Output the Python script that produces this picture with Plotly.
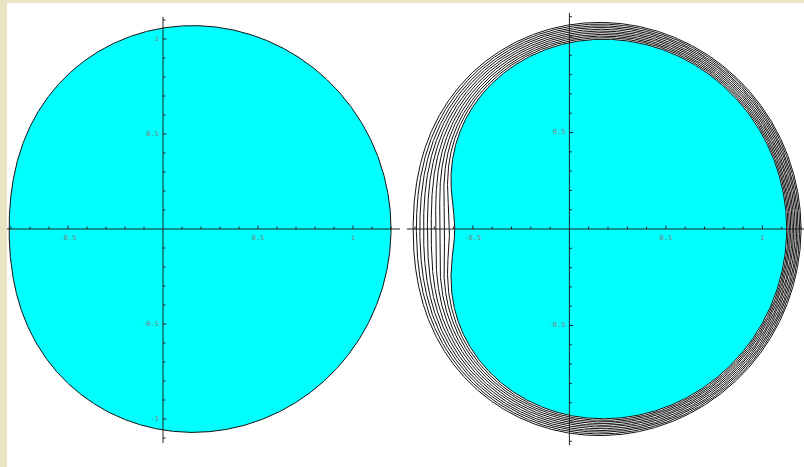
import numpy as np
import plotly.graph_objects as go

# Boundary of the fluid region: image of the unit circle under f(z) = a*z + b*z**2
start_a, start_b = 1.005, 0.195

# Successive fronts while the fluid is drained (outermost first)
front_a = [1.005, 0.993, 0.980, 0.967, 0.953, 0.939, 0.924, 0.909, 0.893, 0.877, 0.860]
front_b = [0.195, 0.200, 0.205, 0.211, 0.217, 0.223, 0.231, 0.238, 0.247, 0.256, 0.266]

# Axis ticks (every 0.1) and labelled ticks
x_minor = [-0.8, -0.7, -0.6, -0.5, -0.4, -0.3, -0.2, -0.1, 0.1, 0.2, 0.3, 0.4,
           0.5, 0.6, 0.7, 0.8, 0.9, 1.0, 1.1, 1.2]
y_minor = [-1.1, -1.0, -0.9, -0.8, -0.7, -0.6, -0.5, -0.4, -0.3, -0.2, -0.1,
           0.1, 0.2, 0.3, 0.4, 0.5, 0.6, 0.7, 0.8, 0.9, 1.0, 1.1]
x_major = [-0.5, 0.5, 1.0]
x_major_text = ["-0.5", "0.5", "1"]
y_major = [1.0, 0.5, -0.5, -1.0]
y_major_text = ["1", "0.5", "-0.5", "-1"]

W, H = 804, 467
ML, MT = 7, 3
PW, PH = W - ML, H - MT
SPLIT = 403  # pixel column between the two panels

BEIGE = "#EBE4C4"
CYAN = "#00FFFF"
LABEL = "#808080"

panels = [
    # origin px, px per unit, panel pixel span, axis extents (data units)
    dict(ox=163.0, oy=229.0, s=190.0, px0=ML, px1=SPLIT,
         xa=(-0.822, 1.247), ya=(-1.126, 1.116)),
    dict(ox=569.4, oy=229.0, s=193.0, px0=SPLIT, px1=W,
         xa=(-0.842, 1.22), ya=(-1.12, 1.12)),
]

theta = np.linspace(0, 2 * np.pi, 1441)
zc = np.exp(1j * theta)


def boundary(a, b):
    w = a * zc + b * zc ** 2
    return w.real, w.imag


fig = go.Figure()

for k, p in enumerate(panels):
    xr = "x" if k == 0 else "x2"
    yr = "y" if k == 0 else "y2"
    s = p["s"]

    if k == 0:
        bx, by = boundary(start_a, start_b)
        fig.add_trace(go.Scatter(x=bx, y=by, mode="lines", fill="toself",
                                 fillcolor=CYAN, line=dict(color="#111111", width=1),
                                 xaxis=xr, yaxis=yr, hoverinfo="skip"))
    else:
        # innermost front is the current fluid region
        bx, by = boundary(front_a[-1], front_b[-1])
        fig.add_trace(go.Scatter(x=bx, y=by, mode="lines", fill="toself",
                                 fillcolor=CYAN, line=dict(color="#111111", width=1),
                                 xaxis=xr, yaxis=yr, hoverinfo="skip"))
        for a, b in zip(front_a[:-1], front_b[:-1]):
            bx, by = boundary(a, b)
            fig.add_trace(go.Scatter(x=bx, y=by, mode="lines",
                                     line=dict(color="#111111", width=1),
                                     xaxis=xr, yaxis=yr, hoverinfo="skip"))

    # coordinate axes through the origin
    fig.add_trace(go.Scatter(x=[p["xa"][0], p["xa"][1], None, 0, 0],
                             y=[0, 0, None, p["ya"][0], p["ya"][1]],
                             mode="lines", line=dict(color="#202020", width=1),
                             xaxis=xr, yaxis=yr, hoverinfo="skip"))

    # tick marks: x ticks point up, y ticks point right
    tx, ty = [], []
    for v in x_minor:
        if p["xa"][0] <= v <= p["xa"][1]:
            L = (3.5 if v in x_major else 2.5) / s
            tx += [v, v, None]
            ty += [0, L, None]
    for v in y_minor:
        L = (3.5 if v in y_major else 2.5) / s
        tx += [0, L, None]
        ty += [v, v, None]
    fig.add_trace(go.Scatter(x=tx, y=ty, mode="lines",
                             line=dict(color="#202020", width=1),
                             xaxis=xr, yaxis=yr, hoverinfo="skip"))

    # tick labels
    fig.add_trace(go.Scatter(x=x_major, y=[-9.0 / s] * len(x_major),
                             text=x_major_text, mode="text",
                             textposition="middle center",
                             textfont=dict(family="DejaVu Sans Mono", size=7, color=LABEL),
                             xaxis=xr, yaxis=yr, hoverinfo="skip"))
    fig.add_trace(go.Scatter(x=[-4.0 / s] * len(y_major), y=y_major,
                             text=y_major_text, mode="text",
                             textposition="middle left",
                             textfont=dict(family="DejaVu Sans Mono", size=7, color=LABEL),
                             xaxis=xr, yaxis=yr, hoverinfo="skip"))

    # pixel-exact ranges so that both axes share one scale
    xrange = [(p["px0"] - p["ox"]) / s, (p["px1"] - p["ox"]) / s]
    yrange = [(p["oy"] - H) / s, (p["oy"] - MT) / s]
    dom = [(p["px0"] - ML) / PW, (p["px1"] - ML) / PW]
    ax = dict(range=xrange, domain=dom, visible=False, fixedrange=True)
    ay = dict(range=yrange, domain=[0, 1], visible=False, fixedrange=True)
    if k == 0:
        fig.update_layout(xaxis=ax, yaxis=dict(ay, anchor="x"))
    else:
        fig.update_layout(xaxis2=dict(ax, anchor="y2"), yaxis2=dict(ay, anchor="x2"))

fig.update_layout(
    width=W, height=H,
    margin=dict(l=ML, t=MT, r=0, b=0),
    paper_bgcolor=BEIGE,
    plot_bgcolor="white",
    showlegend=False,
    shapes=[dict(type="rect", xref="paper", yref="paper", x0=0, x1=1, y0=0, y1=1,
                 fillcolor="white", line=dict(width=0), layer="below")],
)

fig.write_html("out.html", config={"displayModeBar": False})
